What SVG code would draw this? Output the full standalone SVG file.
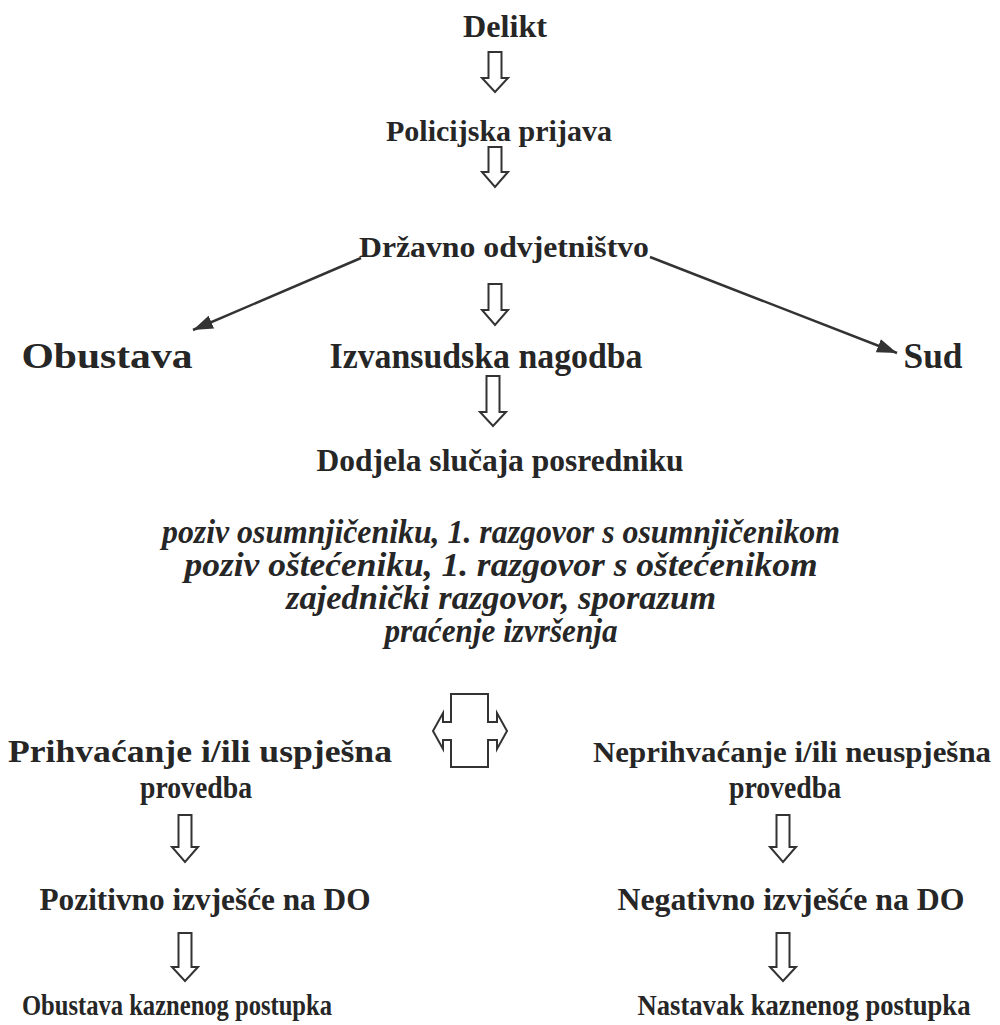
<svg xmlns="http://www.w3.org/2000/svg" width="1000" height="1025" viewBox="0 0 1000 1025">
<style>
.t{font-family:"Liberation Serif","Times New Roman",serif;font-weight:bold;font-size:32px;fill:#262626;text-anchor:middle}
.i{font-family:"Liberation Serif","Times New Roman",serif;font-weight:bold;font-style:italic;font-size:33px;fill:#262626;text-anchor:middle}
.m{font-size:36px}
.s{font-size:30px}
.x{font-size:29px}
.ha{fill:#fff;stroke:#333;stroke-width:2;stroke-linejoin:miter}
.ln{stroke:#333;stroke-width:2.5;fill:none}
</style>
<defs>
<marker id="ah" viewBox="0 0 10 10" refX="10" refY="5" markerWidth="20" markerHeight="14" markerUnits="userSpaceOnUse" orient="auto" preserveAspectRatio="none">
<path d="M0,0 L10,5 L0,10 Z" fill="#333"/>
</marker>
</defs>
<rect width="1000" height="1025" fill="#fff"/>
<g id="nodes">
<g id="n-delikt"><text class="t" x="505" y="37" textLength="84" lengthAdjust="spacingAndGlyphs">Delikt</text></g>
<g id="n-policija"><text class="t s" x="499" y="141" textLength="226" lengthAdjust="spacingAndGlyphs">Policijska prijava</text></g>
<g id="n-do"><text class="t s" x="504" y="257" textLength="290" lengthAdjust="spacingAndGlyphs">Državno odvjetništvo</text></g>
<g id="n-obustava"><text class="t m" x="107" y="368" textLength="171" lengthAdjust="spacingAndGlyphs">Obustava</text></g>
<g id="n-izvansudska"><text class="t m" x="486" y="368" textLength="313" lengthAdjust="spacingAndGlyphs">Izvansudska nagodba</text></g>
<g id="n-sud"><text class="t m" x="933" y="368" textLength="59" lengthAdjust="spacingAndGlyphs">Sud</text></g>
<g id="n-dodjela"><text class="t" x="500" y="471" textLength="367" lengthAdjust="spacingAndGlyphs">Dodjela slučaja posredniku</text></g>
<g id="n-koraci">
<text class="i" x="501" y="543" textLength="678" lengthAdjust="spacingAndGlyphs">poziv osumnjičeniku, 1. razgovor s osumnjičenikom</text>
<text class="i" x="501" y="576" textLength="633" lengthAdjust="spacingAndGlyphs">poziv oštećeniku, 1. razgovor s oštećenikom</text>
<text class="i" x="501" y="609" textLength="430" lengthAdjust="spacingAndGlyphs">zajednički razgovor, sporazum</text>
<text class="i" x="501" y="642" textLength="233" lengthAdjust="spacingAndGlyphs">praćenje izvršenja</text>
</g>
<g id="n-prihvacanje">
<text class="t" x="200" y="762" textLength="384" lengthAdjust="spacingAndGlyphs">Prihvaćanje i/ili uspješna</text>
<text class="t" x="196" y="798" textLength="112" lengthAdjust="spacingAndGlyphs">provedba</text>
</g>
<g id="n-neprihvacanje">
<text class="t s" x="792" y="762" textLength="398" lengthAdjust="spacingAndGlyphs">Neprihvaćanje i/ili neuspješna</text>
<text class="t" x="785" y="798" textLength="112" lengthAdjust="spacingAndGlyphs">provedba</text>
</g>
<g id="n-pozitivno"><text class="t" x="205" y="910" textLength="331" lengthAdjust="spacingAndGlyphs">Pozitivno izvješće na DO</text></g>
<g id="n-negativno"><text class="t" x="791" y="910" textLength="347" lengthAdjust="spacingAndGlyphs">Negativno izvješće na DO</text></g>
<g id="n-obustava-kp"><text class="t s" x="177" y="1015" textLength="310" lengthAdjust="spacingAndGlyphs">Obustava kaznenog postupka</text></g>
<g id="n-nastavak-kp"><text class="t x" x="804" y="1015" textLength="333" lengthAdjust="spacingAndGlyphs">Nastavak kaznenog postupka</text></g>
</g>
<g id="connectors">
<path class="ha" d="M488.5,52 H501.5 V78 H508 L495,92 L482,78 H488.5 Z"/>
<path class="ha" d="M488.5,147 H501.5 V172 H508 L495,187 L482,172 H488.5 Z"/>
<path class="ha" d="M488.5,284 H501.5 V310 H508 L495,325 L482,310 H488.5 Z"/>
<path class="ha" d="M486.5,376 H499.5 V412 H506 L493,426 L480,412 H486.5 Z"/>
<path class="ha" d="M178.5,815 H191.5 V847 H198 L185,862 L172,847 H178.5 Z"/>
<path class="ha" d="M178.5,933 H191.5 V967 H198 L185,981 L172,967 H178.5 Z"/>
<path class="ha" d="M776.5,815 H789.5 V847 H796 L783,862 L770,847 H776.5 Z"/>
<path class="ha" d="M776.5,933 H789.5 V967 H796 L783,981 L770,967 H776.5 Z"/>
<path class="ha" d="M451,694 H488 V722 H497 V713 L507,731 L497,749 V740 H488 V767 H451 V740 H443 V749 L433,731 L443,713 V722 H451 Z"/>
<line class="ln" x1="361" y1="258" x2="193" y2="330" marker-end="url(#ah)"/>
<line class="ln" x1="650" y1="257" x2="897" y2="353" marker-end="url(#ah)"/>
</g>
</svg>
